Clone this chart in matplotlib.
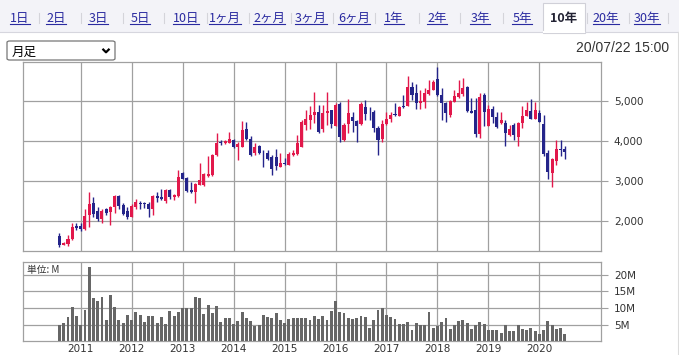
import numpy as np
import pandas as pd
import matplotlib
matplotlib.use("Agg")
import matplotlib.pyplot as plt
from matplotlib.patches import Rectangle, FancyBboxPatch
from matplotlib.lines import Line2D
from matplotlib.ticker import FixedLocator, FuncFormatter

W, H = 679, 355

# monthly candles, Aug 2010 .. Jul 2020
months = pd.date_range("2010-08-01", periods=120, freq="MS")
open_ = [1630, 1420, 1430, 1560, 1880, 1880, 1810, 2160, 2450, 2270, 2060, 2310,
         2240, 2370, 2630, 2400, 2270, 2120, 2370, 2450, 2450, 2430, 2300, 2630,
         2600, 2520, 2780, 2600, 2630, 3220, 3090, 2780, 2740, 2910, 2910, 3130,
         3160, 3660, 3990, 3950, 3970, 4030, 3850, 3870, 4300, 4070, 3700, 3880,
         3720, 3700, 3620, 3600, 3370, 3470, 3420, 3660, 3680, 3870, 4410, 4530,
         4670, 4740, 4310, 4700, 4770, 4380, 4930, 4030, 4430, 4600, 4520, 4430,
         4850, 4720, 4740, 4340, 4070, 4430, 4550, 4680, 4630, 4880, 4880, 5350,
         5220, 4950, 4990, 5180, 5280, 5550, 5160, 4950, 4660, 4990, 5120, 5180,
         5350, 4770, 4780, 4180, 5160, 4390, 4820, 4600, 4450, 4450, 4160, 4410,
         4100, 4450, 4630, 4770, 4570, 4700, 4430, 3700, 3220, 3520, 3800, 3820]
high = [1700, 1490, 1660, 1970, 1970, 1970, 2320, 2730, 2600, 2370, 2310, 2340,
        2390, 2660, 2660, 2450, 2370, 2430, 2570, 2500, 2490, 2490, 2660, 2740,
        2820, 2820, 2820, 2680, 3280, 3240, 3120, 2990, 2970, 3450, 3220, 3620,
        3680, 4200, 4030, 4030, 4240, 4060, 3970, 4510, 4490, 4130, 3950, 3910,
        3770, 3780, 3660, 3800, 3700, 3570, 3720, 3780, 4160, 4530, 4770, 4870,
        5240, 4910, 4910, 5220, 4780, 4950, 4990, 4450, 5050, 4740, 4530, 4970,
        5020, 4850, 4770, 4370, 4530, 4740, 4740, 4950, 4870, 5160, 5620, 5490,
        5430, 5280, 5320, 5520, 5530, 5850, 5320, 4970, 5030, 5280, 5520, 5570,
        5370, 5070, 5070, 5200, 5200, 4910, 4880, 4720, 4740, 4530, 4410, 4450,
        4490, 4870, 4990, 5050, 4990, 4780, 4660, 3780, 3570, 4020, 4030, 3880]
low = [1370, 1400, 1380, 1530, 1780, 1770, 1780, 1850, 2120, 2020, 1970, 2160,
       1920, 2200, 2320, 2160, 2050, 2100, 2310, 2320, 2330, 2120, 2160, 2490,
       2530, 2450, 2570, 2530, 2620, 3050, 2740, 2720, 2470, 2900, 2880, 3120,
       3130, 3620, 3910, 3930, 3950, 3820, 3530, 3850, 4020, 3620, 3660, 3680,
       3350, 3530, 3170, 3280, 3350, 3410, 3410, 3630, 3660, 3850, 4280, 4300,
       4450, 4200, 4220, 4410, 4320, 4370, 3970, 4010, 4200, 4240, 3990, 4410,
       4530, 4520, 4240, 3660, 3970, 4410, 4490, 4620, 4620, 4820, 4870, 5030,
       4800, 4800, 4820, 5160, 5270, 5120, 4520, 4470, 4600, 4970, 5070, 5130,
       4740, 4700, 4100, 4070, 4370, 4370, 4450, 4320, 4430, 3880, 4130, 4030,
       3870, 4320, 4620, 4550, 4550, 4470, 3630, 3050, 2870, 3410, 3620, 3550]
close = [1410, 1470, 1570, 1850, 1840, 1800, 2130, 2430, 2180, 2070, 2260, 2220,
         2370, 2630, 2390, 2180, 2100, 2380, 2480, 2430, 2430, 2320, 2630, 2590,
         2550, 2780, 2600, 2660, 3120, 3070, 2770, 2730, 2930, 3030, 3180, 3180,
         3660, 3950, 3950, 4000, 4050, 3870, 3930, 4280, 4050, 3660, 3850, 3720,
         3700, 3570, 3320, 3380, 3450, 3430, 3680, 3720, 3950, 4490, 4550, 4660,
         4740, 4240, 4700, 4770, 4430, 4910, 4120, 4410, 4700, 4520, 4390, 4920,
         4680, 4700, 4340, 4030, 4430, 4550, 4660, 4660, 4850, 4850, 5350, 5170,
         4950, 5020, 5200, 5280, 5470, 5160, 4950, 4700, 5020, 5130, 5220, 5320,
         4770, 4720, 4180, 5100, 4740, 4820, 4600, 4370, 4530, 4200, 4300, 4160,
         4450, 4630, 4780, 4570, 4780, 4490, 3680, 3240, 3550, 3800, 3780, 3740]
volume_m = [5.0, 5.6, 7.2, 10.4, 7.5, 4.8, 9.5, 22.2, 12.9, 12.2, 13.2, 6.5,
            13.8, 10.4, 6.5, 5.6, 8.0, 6.5, 8.9, 8.0, 5.9, 7.7, 7.7, 5.6,
            7.4, 5.3, 9.2, 7.7, 8.9, 10.1, 10.1, 10.1, 13.4, 12.9, 8.3, 11.0,
            8.6, 10.7, 5.9, 7.1, 7.0, 5.3, 6.2, 8.9, 7.1, 6.2, 4.5, 5.0,
            8.0, 7.4, 7.1, 8.6, 6.5, 5.6, 6.8, 7.1, 7.1, 7.1, 7.1, 6.5,
            7.7, 6.8, 7.7, 6.5, 9.2, 12.2, 8.9, 8.6, 7.1, 6.8, 7.1, 7.7,
            7.4, 4.1, 6.5, 9.5, 10.1, 8.0, 7.4, 6.8, 5.2, 5.2, 5.9, 3.5,
            5.6, 5.0, 4.8, 8.9, 4.1, 4.6, 5.9, 7.1, 3.8, 4.8, 6.2, 6.5,
            5.6, 3.8, 5.0, 5.9, 5.3, 3.3, 3.5, 3.5, 2.6, 4.8, 3.2, 3.2,
            5.0, 3.8, 3.5, 4.1, 3.2, 2.3, 3.5, 6.2, 5.0, 3.8, 4.1, 2.3]
price_ticks = [2000, 3000, 4000, 5000]
volume_ticks = [5, 10, 15, 20]
tabs = ["1日", "2日", "3日", "5日", "10日", "1ヶ月", "2ヶ月", "3ヶ月", "6ヶ月",
        "1年", "2年", "3年", "5年", "10年", "20年", "30年"]
selected_tab = "10年"

RED = "#e2184b"
BLUE = "#24248a"
GRID = "#a0a0a0"
CJK = ["Noto Sans CJK JP", "DejaVu Sans"]

x = np.arange(len(months))
o = np.array(open_); c = np.array(close); hi = np.array(high); lo = np.array(low)
up = c >= o
colors = np.where(up, RED, BLUE)
year_pos = x[months.month == 1]
year_lbl = [str(d.year) for d in months[months.month == 1]]

fig = plt.figure(figsize=(W / 100, H / 100), dpi=100)
fig.patch.set_facecolor("white")

def rect(x0, y0, x1, y1):
    return [x0 / W, 1 - y1 / H, (x1 - x0) / W, (y1 - y0) / H]

# ---- tab strip
fig.add_artist(Rectangle((0, 1 - 31.5 / H), 1, 31.5 / H, transform=fig.transFigure,
                         facecolor="#f3f3f8", edgecolor="none"))
fig.add_artist(Line2D([0, 1], [1 - 31.5 / H] * 2, transform=fig.transFigure,
                      color="#d6d6de", lw=0.8))
fig.add_artist(Rectangle((543 / W, 1 - 32.5 / H), 42 / W, 29.5 / H, transform=fig.transFigure,
                         facecolor="white", edgecolor="#d0d0d8", lw=0.8))
fig.add_artist(Line2D([543.6 / W, 584.4 / W], [1 - 31.5 / H] * 2, transform=fig.transFigure,
                      color="white", lw=1.5))
tab_cx = [20, 56, 98, 140, 186, 225, 269, 311, 354, 394, 437, 480, 522, 564, 606, 647]
seps = [39, 81, 123, 164, 207, 249, 291, 333, 375, 419, 460, 503, 587, 629, 668]
for sx in seps:
    fig.add_artist(Line2D([sx / W] * 2, [1 - 13 / H, 1 - 22.5 / H], transform=fig.transFigure,
                          color="#d4d4da", lw=0.8))
tab_texts = []
for name, cx in zip(tabs, tab_cx):
    sel = name == selected_tab
    t = fig.text(cx / W, 1 - 22.3 / H, name, ha="center", va="baseline", fontsize=9,
                 family=CJK, color="#222233" if sel else "#2a2aa0",
                 fontweight="bold" if sel else "normal")
    tab_texts.append((t, sel))

# ---- dropdown and date
fig.add_artist(FancyBboxPatch((7 / W, 1 - 60 / H), 108 / W, 19 / H, transform=fig.transFigure,
                              boxstyle="round,pad=0,rounding_size=0.004",
                              facecolor="white", edgecolor="#767676", lw=0.9))
fig.text(12 / W, 1 - 56 / H, "月足", fontsize=9, family=CJK, color="black", va="baseline")
fig.add_artist(Line2D([102.5 / W, 106 / W, 109.5 / W], [1 - 48.8 / H, 1 - 52.3 / H, 1 - 48.8 / H],
                      transform=fig.transFigure, color="black", lw=1.6, solid_capstyle="butt"))
fig.text(669 / W, 1 - 52.5 / H, "20/07/22 15:00", ha="right", va="baseline",
         fontsize=10, family="Liberation Sans", color="#333333")
fig.add_artist(Line2D([677.5 / W] * 2, [0, 1 - 31.5 / H], transform=fig.transFigure,
                      color="#dcdcdc", lw=0.8))

# ---- price panel
xlim = (-8.66, 127.58)
ax = fig.add_axes(rect(22.7, 61.7, 601.3, 251.3))
ax.vlines(x, lo, hi, colors=colors, lw=1.0, zorder=3)
body = np.maximum(np.abs(c - o), 18)
ax.bar(x, body, bottom=np.minimum(o, c), width=0.72, color=colors, zorder=4, linewidth=0)
ax.set_xlim(*xlim)
ax.set_ylim(1250, 5990)
ax.set_xticks(year_pos)
ax.set_xticklabels([])
ax.tick_params(axis="x", length=0)
ax.yaxis.tick_right()
ax.yaxis.set_major_locator(FixedLocator(price_ticks))
ax.yaxis.set_major_formatter(FuncFormatter(lambda v, p: f"{int(v):,}"))
ax.tick_params(axis="y", length=5, width=0.8, color=GRID, pad=4, labelsize=7.5, labelcolor="#333333")
ax.grid(True, color=GRID, lw=0.9)
ax.set_axisbelow(True)
for s in ax.spines.values():
    s.set_color(GRID); s.set_linewidth(0.9)

# ---- volume panel
axv = fig.add_axes(rect(22.7, 262.3, 601.3, 341.3))
axv.bar(x, volume_m, width=0.68, color="#666666", zorder=3, linewidth=0)
axv.set_xlim(*xlim)
axv.set_ylim(0, 23.7)
axv.set_xticks(year_pos)
axv.set_xticklabels(year_lbl)
axv.tick_params(axis="x", length=0, pad=2, labelsize=7.5, labelcolor="#333333")
axv.yaxis.tick_right()
axv.yaxis.set_major_locator(FixedLocator(volume_ticks))
axv.yaxis.set_major_formatter(FuncFormatter(lambda v, p: f"{int(v)}M"))
axv.tick_params(axis="y", length=5, width=0.8, color=GRID, pad=4, labelsize=7.5, labelcolor="#333333")
axv.grid(True, color=GRID, lw=0.9)
axv.set_axisbelow(True)
for s in axv.spines.values():
    s.set_color(GRID); s.set_linewidth(0.9)
axv.text(4.3 / 578.6, 1 - 8 / 79, "単位: M", transform=axv.transAxes, fontsize=7,
         family=CJK, color="#333333", va="center", ha="left")

# underline the tab links
fig.canvas.draw()
r = fig.canvas.get_renderer()
for t, sel in tab_texts:
    if sel:
        continue
    bb = t.get_window_extent(r)
    fig.add_artist(Line2D([bb.x0 / W, bb.x1 / W], [1 - 23.8 / H] * 2, transform=fig.transFigure,
                          color="#2a2aa0", lw=0.8))

fig.savefig("out.png", dpi=100, facecolor="white")
